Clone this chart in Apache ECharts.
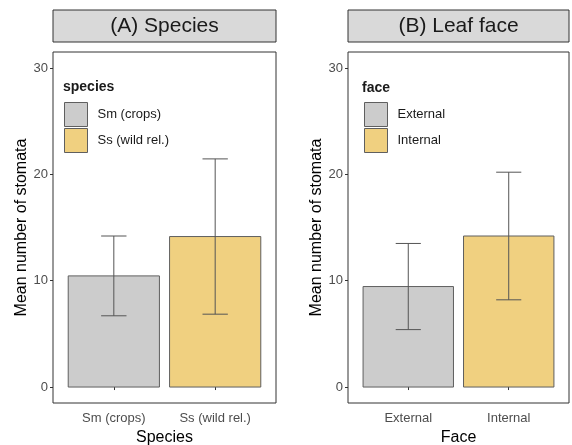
<!DOCTYPE html>
<html>
<head>
<meta charset="utf-8">
<script src="https://cdn.jsdelivr.net/npm/echarts@6/dist/echarts.min.js"></script>
<style>
  html, body { margin: 0; padding: 0; background: #fff; }
  #chart { width: 572px; height: 445px; }
</style>
</head>
<body>
<div id="chart"></div>
<script>
// Panel A: mean stomata count per species, with ±1 SD
var speciesCats = ['Sm (crops)', 'Ss (wild rel.)'];
var speciesMean = [10.45, 14.15];
var speciesSd = [3.75, 7.3];

// Panel B: mean stomata count per leaf face, with ±1 SD
var faceCats = ['External', 'Internal'];
var faceMean = [9.45, 14.2];
var faceSd = [4.05, 6.0];

var yTicks = [0, 10, 20, 30];
var fillColors = ['#CCCCCC', '#F0D080'];

var FONT = "'Liberation Sans', Arial, sans-serif";
var chart = echarts.init(document.getElementById('chart'), null, { renderer: 'canvas' });

function barSeries(name, idx, pos, mean, color) {
  return {
    type: 'custom',
    name: name,
    xAxisIndex: idx,
    yAxisIndex: idx,
    itemStyle: { color: color, borderColor: '#5f5f5f', borderWidth: 1 },
    data: [[pos, mean]],
    renderItem: function (params, api) {
      var x = api.value(0), v = api.value(1);
      var p0 = api.coord([x - 0.45, v]);
      var p1 = api.coord([x + 0.45, 0]);
      return {
        type: 'rect',
        shape: { x: p0[0], y: p0[1], width: p1[0] - p0[0], height: p1[1] - p0[1] },
        style: { fill: color, stroke: '#5f5f5f', lineWidth: 1 }
      };
    }
  };
}

function errSeries(idx, means, sds) {
  var data = means.map(function (m, i) { return [i + 1, m - sds[i], m + sds[i]]; });
  return {
    type: 'custom',
    name: 'sd' + idx,
    xAxisIndex: idx,
    yAxisIndex: idx,
    z: 5,
    data: data,
    renderItem: function (params, api) {
      var x = api.value(0), lo = api.value(1), hi = api.value(2);
      var top = api.coord([x, hi]), bot = api.coord([x, lo]);
      var l = api.coord([x - 0.125, hi])[0], r = api.coord([x + 0.125, hi])[0];
      var st = { stroke: '#555555', lineWidth: 1 };
      return {
        type: 'group',
        children: [
          { type: 'line', shape: { x1: top[0], y1: top[1], x2: bot[0], y2: bot[1] }, style: st },
          { type: 'line', shape: { x1: l, y1: top[1], x2: r, y2: top[1] }, style: st },
          { type: 'line', shape: { x1: l, y1: bot[1], x2: r, y2: bot[1] }, style: st }
        ]
      };
    }
  };
}

function xAxis(idx, cats, title) {
  return {
    type: 'value',
    gridIndex: idx,
    min: 0.4, max: 2.6,
    name: title,
    nameLocation: 'middle',
    nameGap: 24,
    nameTextStyle: { fontFamily: FONT, fontSize: 16, color: '#000' },
    axisLine: { show: false },
    splitLine: { show: false },
    axisTick: { show: true, length: 3, customValues: [1, 2], lineStyle: { color: '#333' } },
    axisLabel: {
      customValues: [1, 2],
      margin: 9,
      fontFamily: FONT, fontSize: 13, color: '#4d4d4d',
      formatter: function (v) { return cats[Math.round(v) - 1]; }
    }
  };
}

function yAxis(idx) {
  return {
    type: 'value',
    gridIndex: idx,
    min: -1.5, max: 31.5,
    name: 'Mean number of stomata',
    nameLocation: 'middle',
    nameGap: 23,
    nameTextStyle: { fontFamily: FONT, fontSize: 16, color: '#000' },
    axisLine: { show: false },
    splitLine: { show: false },
    axisTick: { show: true, length: 3, customValues: yTicks, lineStyle: { color: '#333' } },
    axisLabel: {
      customValues: yTicks,
      margin: 5,
      fontFamily: FONT, fontSize: 13, color: '#4d4d4d'
    }
  };
}

function legend(names, left) {
  return {
    data: names,
    orient: 'vertical',
    left: left,
    top: 102,
    padding: 0,
    icon: 'rect',
    itemWidth: 23,
    itemHeight: 24,
    itemGap: 1,
    selectedMode: false,
    itemStyle: { borderColor: '#5f5f5f', borderWidth: 1 },
    textStyle: { fontFamily: FONT, fontSize: 13, color: '#1a1a1a', padding: [0, 0, 0, 5] }
  };
}

function strip(x, w, label) {
  return [
    { type: 'rect', shape: { x: x, y: 10, width: w, height: 32 },
      style: { fill: '#D9D9D9', stroke: '#333', lineWidth: 1 } },
    { type: 'text', x: x + w / 2, y: 26,
      style: { text: label, fontFamily: FONT, fontSize: 21, fill: '#1a1a1a', align: 'center', verticalAlign: 'middle' } }
  ];
}

var gridBase = { top: 52, height: 351, show: true, borderColor: '#333', borderWidth: 1,
  backgroundColor: 'transparent', containLabel: false, outerBoundsMode: 'none' };

var option = {
  animation: false,
  backgroundColor: '#ffffff',
  grid: [
    Object.assign({ left: 53, width: 223 }, gridBase),
    Object.assign({ left: 348, width: 221 }, gridBase)
  ],
  xAxis: [xAxis(0, speciesCats, 'Species'), xAxis(1, faceCats, 'Face')],
  yAxis: [yAxis(0), yAxis(1)],
  legend: [legend(speciesCats, 64), legend(faceCats, 364)],
  graphic: strip(53, 223, '(A) Species').concat(strip(348, 221, '(B) Leaf face')).concat([
    { type: 'text', x: 63, y: 87,
      style: { text: 'species', fontFamily: FONT, fontSize: 14, fontWeight: 'bold', fill: '#1a1a1a', verticalAlign: 'middle' } },
    { type: 'text', x: 362, y: 88,
      style: { text: 'face', fontFamily: FONT, fontSize: 14, fontWeight: 'bold', fill: '#1a1a1a', verticalAlign: 'middle' } }
  ]),
  series: [
    barSeries(speciesCats[0], 0, 1, speciesMean[0], fillColors[0]),
    barSeries(speciesCats[1], 0, 2, speciesMean[1], fillColors[1]),
    errSeries(0, speciesMean, speciesSd),
    barSeries(faceCats[0], 1, 1, faceMean[0], fillColors[0]),
    barSeries(faceCats[1], 1, 2, faceMean[1], fillColors[1]),
    errSeries(1, faceMean, faceSd)
  ]
};

chart.setOption(option);
</script>
</body>
</html>
